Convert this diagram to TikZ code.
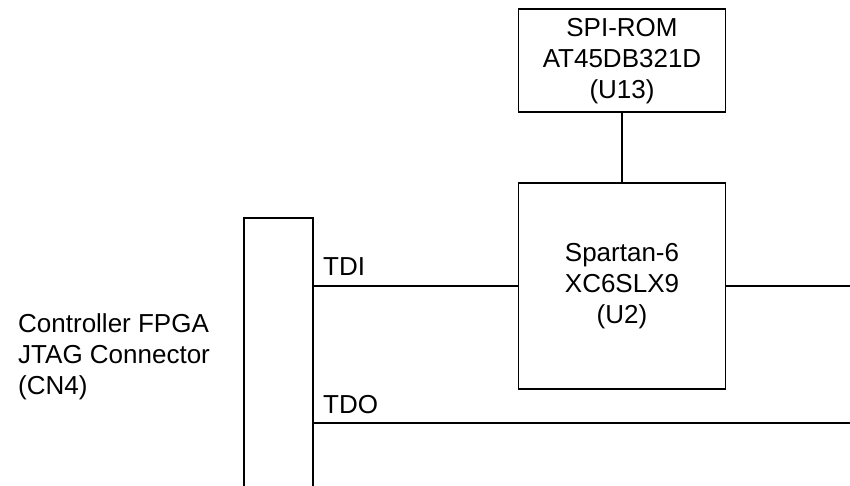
\documentclass[tikz,border=0pt]{standalone}
\usepackage{fontspec}
\setmainfont{Liberation Sans}
\usepackage{tikz}
\usetikzlibrary{positioning}

\begin{document}
\begin{tikzpicture}[
    x=1pt, y=1pt,
    node distance=69pt,
    every node/.style={font=\fontsize{26}{31}\selectfont},
    box/.style={rectangle, draw, line width=1.8pt, align=center, inner sep=0pt},
    label/.style={inner sep=0pt, align=left},
    wire/.style={line width=1.8pt}
]
\useasboundingbox (0,0) rectangle (850,486);
\clip (0,0) rectangle (850,486);

% FPGA and its configuration ROM
\node[box, minimum width=207pt, minimum height=206pt] (fpga) at (622,200) {Spartan-6\\XC6SLX9\\(U2)};
\node[box, minimum width=207pt, minimum height=103pt, above=of fpga] (spi) {SPI-ROM\\AT45DB321D\\(U13)};

% JTAG connector
\node[box, minimum width=69pt, minimum height=300pt, anchor=north] (cn) at (278.5,269) {};
\node[label, anchor=west] (cnlabel) at (18,129.5) {Controller FPGA\\JTAG Connector\\(CN4)};

% Signal names
\node[label, anchor=base west] (tdi) at (323,210) {TDI};
\node[label, anchor=base west] (tdo) at (323,72.7) {TDO};

% Page edge
\coordinate (edge) at (850,63);

% Wires
\draw[wire] (spi) -- (fpga);
\draw[wire] (cn.east |- fpga.west) -- (fpga.west);
\draw[wire] (fpga.east) -- (fpga.east -| edge);
\draw[wire] (cn.east |- edge) -- (edge);

\end{tikzpicture}
\end{document}
